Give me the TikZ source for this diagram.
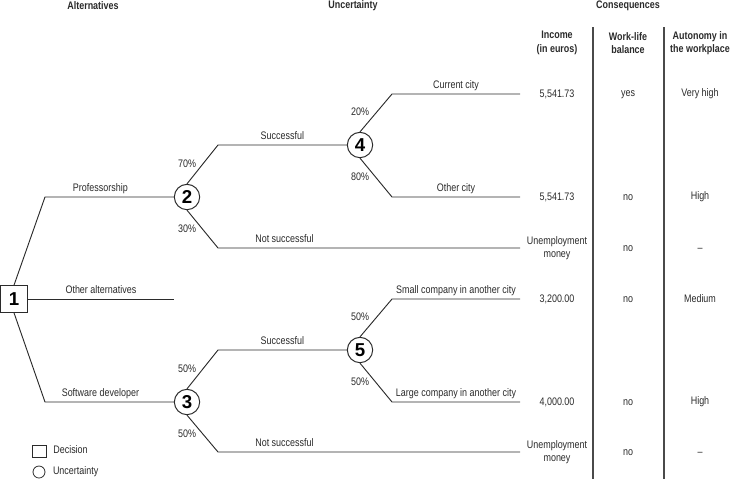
\documentclass[tikz,border=0pt]{standalone}
\usepackage{fontspec}
\setmainfont{Liberation Sans}[FakeStretch=0.82]
\newfontfamily\numfont{Liberation Sans}
\usetikzlibrary{positioning}
\definecolor{treeGray}{HTML}{2B2B2B}
\definecolor{ruleGray}{HTML}{4A4A4A}
\tikzset{
  decision/.style={draw=treeGray, line width=0.75pt, fill=white, minimum size=20pt,
                   inner sep=0pt, font=\numfont\fontsize{14}{14}\selectfont\bfseries},
  chance/.style={draw=treeGray, line width=0.75pt, fill=white, circle, minimum size=19pt,
                 inner sep=0pt, font=\numfont\fontsize{14}{14}\selectfont\bfseries},
  branch/.style={draw=treeGray, line width=0.7pt},
  rule/.style={draw=ruleGray, line width=0.9pt},
  lbl/.style={font=\fontsize{8.2}{10}\selectfont, text=treeGray, inner sep=2pt,
              text height=6pt, text depth=1.7pt},
  pct/.style={lbl},
  colhead/.style={font=\fontsize{8.2}{10}\selectfont\bfseries, text=treeGray,
                  align=center, inner sep=0pt},
  cell/.style={font=\fontsize{8.2}{10}\selectfont, text=treeGray, align=center, inner sep=1pt},
}

\begin{document}
\begin{tikzpicture}[x=0.75pt, y=-0.75pt]
\useasboundingbox (0,0) rectangle (730,479);

% headings
\node[colhead] (hAlt) at (93,6) {Alternatives};
\node[colhead] (hUnc) at (353,6) {Uncertainty};
\node[colhead] (hCon) at (628,6) {Consequences};
\node[colhead] (hInc) at (557,43) {Income\\(in euros)};
\node[colhead] (hWlb) at (628,43) {Work-life\\balance};
\node[colhead] (hAut) at (700,43) {Autonomy in\\the workplace};

% column rules
\draw[rule] (593,27) -- (593,479);
\draw[rule] (664,27) -- (664,479);

% decision and chance nodes
\node[decision] (n1) at (14,299) {1};
\node[chance] (c2) at (187,197) {2};
\node[chance] (c3) at (187,402) {3};
\node[chance] (c4) at (360,145) {4};
\node[chance] (c5) at (360,350) {5};

% free ends
\coordinate (e1) at (520,94);
\coordinate (e2) at (520,197);
\coordinate (e3) at (520,248);
\coordinate (e4) at (174,299);
\coordinate (e5) at (520,299);
\coordinate (e6) at (520,402);
\coordinate (e7) at (520,452);

% alternatives
\draw[branch] (n1.north) -- (45,0 |- c2) -- (c2)
  node[lbl, pos=0.43, above] (lProf) {Professorship};
\draw[branch] (n1) -- (e4) node[lbl, midway, above] (lOther) {Other alternatives};
\draw[branch] (n1.south) -- (45,0 |- c3) -- (c3)
  node[lbl, pos=0.43, above] (lSoft) {Software developer};

% uncertainty, professorship
\draw[branch] (c2.north) -- (218,0 |- c4) -- (c4) node[lbl, midway, above] (lSucc2) {Successful};
\draw[branch] (c2.south) -- (218,0 |- e3) -- (e3) node[lbl, pos=0.22, above] (lFail2) {Not successful};
\node[pct, above=8pt of c2] (p70) {70\%};
\node[pct, below=8.5pt of c2] (p30) {30\%};
\draw[branch] (c4.north) -- (392,0 |- e1) -- (e1) node[lbl, midway, above] (lCur) {Current city};
\draw[branch] (c4.south) -- (392,0 |- e2) -- (e2) node[lbl, midway, above] (lOcity) {Other city};
\node[pct, above=8pt of c4] (p20) {20\%};
\node[pct, below=8.5pt of c4] (p80) {80\%};

% uncertainty, software developer
\draw[branch] (c3.north) -- (218,0 |- c5) -- (c5) node[lbl, midway, above] (lSucc3) {Successful};
\draw[branch] (c3.south) -- (218,0 |- e7) -- (e7) node[lbl, pos=0.22, above] (lFail3) {Not successful};
\node[pct, above=8pt of c3] (p50a) {50\%};
\node[pct, below=8.5pt of c3] (p50b) {50\%};
\draw[branch] (c5.north) -- (392,0 |- e5) -- (e5) node[lbl, midway, above] (lSmall) {Small company in another city};
\draw[branch] (c5.south) -- (392,0 |- e6) -- (e6) node[lbl, midway, above] (lLarge) {Large company in another city};
\node[pct, above=8pt of c5] (p50c) {50\%};
\node[pct, below=8.5pt of c5] (p50d) {50\%};

% consequences
\foreach \i/\y/\inc/\wl/\aut in {1/94/{5,541.73}/yes/{Very high},
    2/197/{5,541.73}/no/High, 3/248/{Unemployment\\money}/no/--,
    4/299/{3,200.00}/no/Medium, 5/402/{4,000.00}/no/High,
    6/452/{Unemployment\\money}/no/--}{
  \node[cell] (inc\i) at (557,\y) {\inc\vphantom{1}};
  \node[cell] (wlb\i) at (628,\y) {\wl\vphantom{1}};
  \node[cell] (aut\i) at (700,\y) {\aut\vphantom{1}};
}

% legend
\node[draw=treeGray, line width=0.6pt, minimum width=10.5pt, minimum height=9pt,
      inner sep=0pt] (legDec) at (39,451) {};
\node[lbl, right=3pt of legDec] (legDecTxt) {Decision};
\node[draw=treeGray, line width=0.6pt, circle, minimum size=9pt, inner sep=0pt] (legUnc) at (39,472) {};
\node[lbl, right=3.5pt of legUnc] (legUncTxt) {Uncertainty};
\end{tikzpicture}
\end{document}
